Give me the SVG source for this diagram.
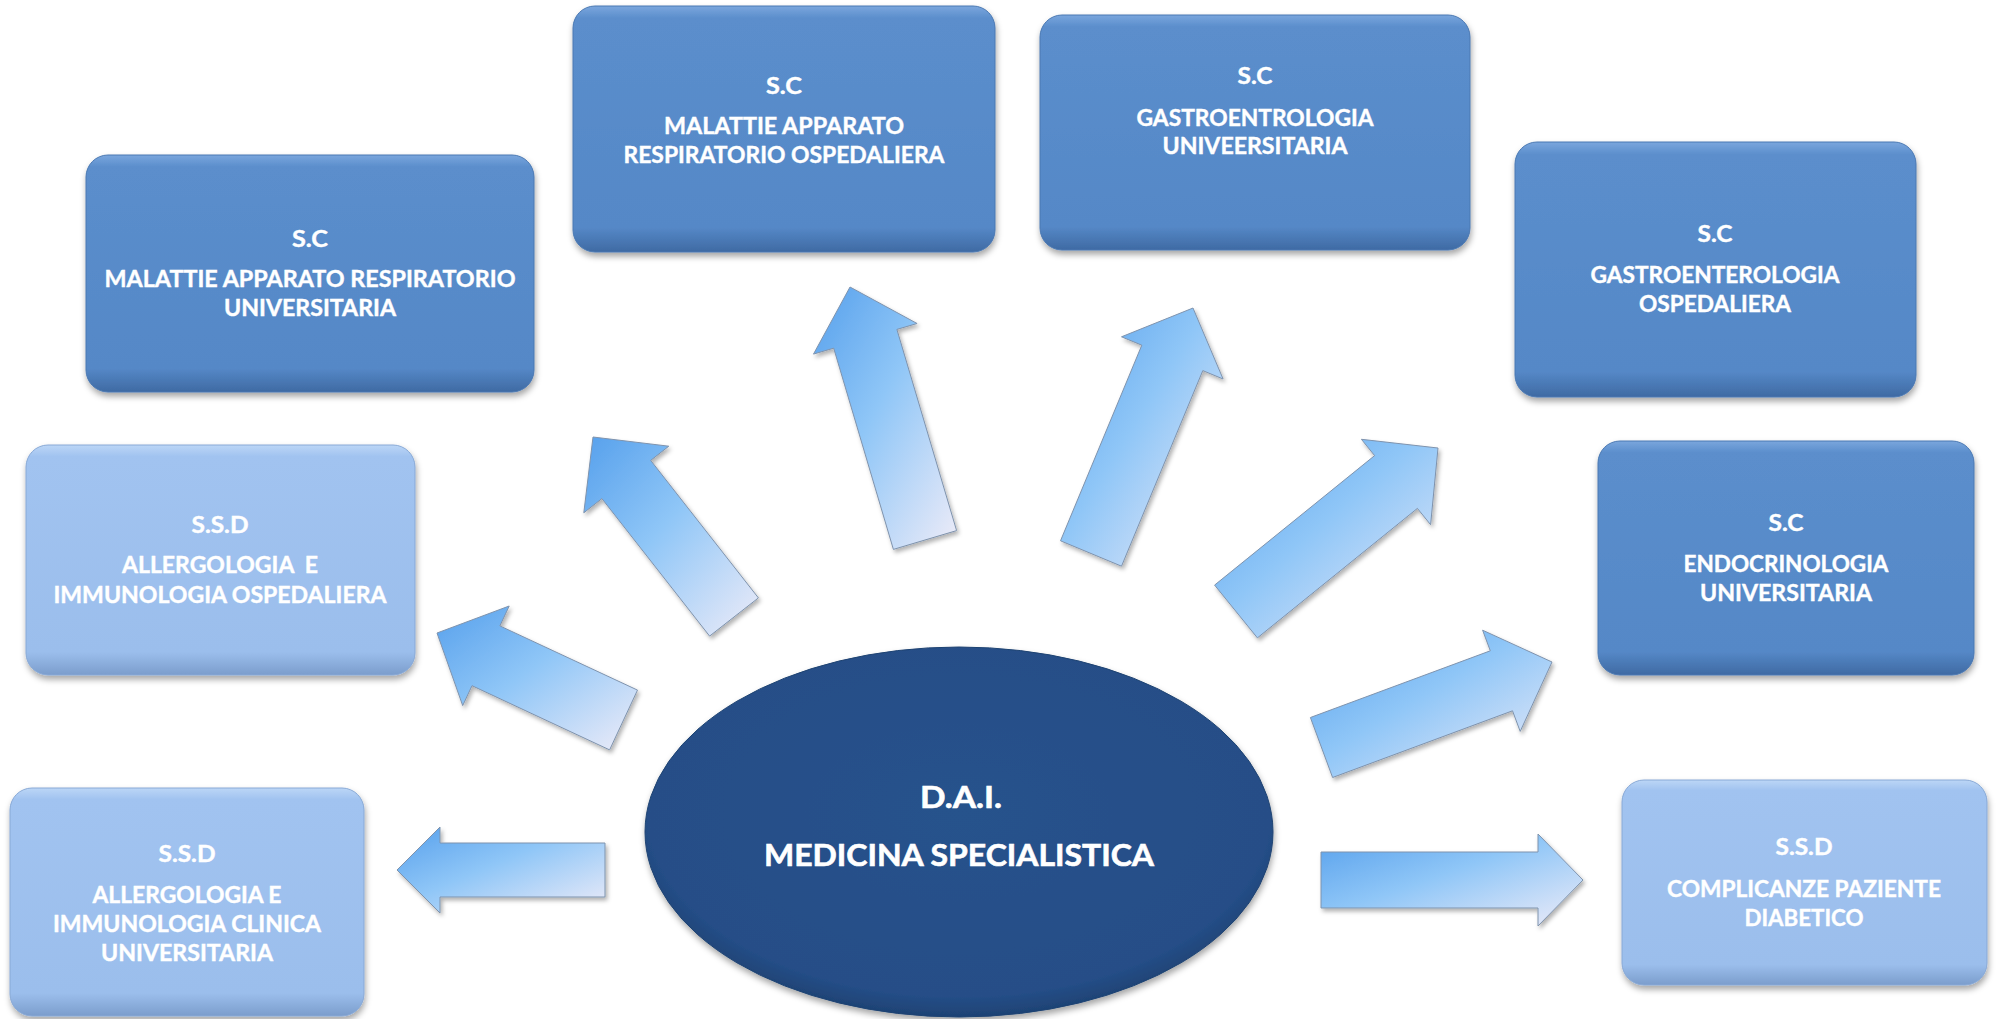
<svg xmlns="http://www.w3.org/2000/svg" width="1999" height="1019" viewBox="0 0 1999 1019">
  <defs>
    <linearGradient id="gDark" x1="0" y1="0" x2="0" y2="1">
      <stop offset="0" stop-color="#7aa6dd"/>
      <stop offset="0.05" stop-color="#5b8ecc"/>
      <stop offset="0.9" stop-color="#5588c7"/>
      <stop offset="1" stop-color="#3f6aa3"/>
    </linearGradient>
    <linearGradient id="gLight" x1="0" y1="0" x2="0" y2="1">
      <stop offset="0" stop-color="#bcd6f6"/>
      <stop offset="0.05" stop-color="#a1c3f0"/>
      <stop offset="0.9" stop-color="#9bbeec"/>
      <stop offset="1" stop-color="#7b9dcc"/>
    </linearGradient>
    <radialGradient id="gEll" cx="0.5" cy="0.45" r="0.55">
      <stop offset="0" stop-color="#27528c"/>
      <stop offset="0.9" stop-color="#254e87"/>
      <stop offset="1" stop-color="#1e4274"/>
    </radialGradient>
    <linearGradient id="gArrow" x1="0" y1="0" x2="1" y2="1">
      <stop offset="0" stop-color="#56a0ec"/>
      <stop offset="0.45" stop-color="#8fc6f7"/>
      <stop offset="1" stop-color="#eeecf8"/>
    </linearGradient>
    <filter id="shadow" x="-10%" y="-10%" width="120%" height="125%">
      <feDropShadow dx="1" dy="4" stdDeviation="3" flood-color="#000" flood-opacity="0.35"/>
    </filter>
    <filter id="ashadow" x="-10%" y="-10%" width="125%" height="125%">
      <feDropShadow dx="2" dy="3" stdDeviation="2" flood-color="#000" flood-opacity="0.3"/>
    </filter>
  </defs>
  <style>
    .dark { fill: url(#gDark); stroke: #4a78b2; stroke-width: 1; filter: url(#shadow); }
    .light { fill: url(#gLight); stroke: #88a9d6; stroke-width: 1; filter: url(#shadow); }
    .t { font-family: Lato, "Open Sans", "Liberation Sans", sans-serif; font-weight: bold; font-size: 23px; fill: #ffffff; stroke: #ffffff; stroke-width: 0.4; text-anchor: middle; }
    .tb { font-family: Lato, "Open Sans", "Liberation Sans", sans-serif; font-weight: bold; font-size: 30px; fill: #ffffff; stroke: #ffffff; stroke-width: 0.6; text-anchor: middle; }
    .arrow { fill: url(#gArrow); stroke: #7f93ad; stroke-width: 1; stroke-linejoin: miter; filter: url(#ashadow); }
  </style>
  <rect width="1999" height="1019" fill="#ffffff"/>

  <g id="connectors">
    <polygon class="arrow" points="605,843 440,843 440,827 397,870 440,913 440,897 605,897"/>
    <polygon class="arrow" points="637.5,690.1 499.9,625.9 509.2,606.0 437,633 462.7,705.6 472.0,685.7 609.6,749.9"/>
    <polygon class="arrow" points="758.4,597.9 650.7,460.4 668.8,446.2 593,437 583.8,512.8 601.9,498.6 709.6,636.1"/>
    <polygon class="arrow" points="956.6,530.6 896.9,329.4 917.1,323.5 850,287 813.5,354.1 833.7,348.2 893.4,549.4"/>
    <polygon class="arrow" points="1121.5,566.2 1202.8,370.6 1223.1,379.0 1193,308 1121.5,336.8 1141.8,345.2 1060.5,540.8"/>
    <polygon class="arrow" points="1257.4,637.9 1417.4,508.4 1430.6,524.7 1438,448 1361.4,439.3 1374.6,455.6 1214.6,585.1"/>
    <polygon class="arrow" points="1332.6,777.5 1512.5,710.8 1520.2,731.4 1552,662 1482.6,630.2 1490.3,650.8 1310.4,717.5"/>
    <polygon class="arrow" points="1321,852 1538,852 1538,834 1583,880 1538,926 1538,908 1321,908"/>
  </g>

  <g id="node-dai">
    <ellipse cx="959" cy="832" rx="314" ry="185" fill="url(#gEll)" stroke="#1f4372" stroke-width="1" filter="url(#shadow)"/>
    <text class="tb" x="961" y="808" textLength="82" lengthAdjust="spacingAndGlyphs">D.A.I.</text>
    <text class="tb" x="959" y="866" textLength="390" lengthAdjust="spacingAndGlyphs">MEDICINA SPECIALISTICA</text>
  </g>

  <g id="node-resp-univ">
    <rect class="dark" x="86" y="155" width="448" height="237" rx="22"/>
    <text class="t" x="310" y="247" textLength="36" lengthAdjust="spacingAndGlyphs">S.C</text>
    <text class="t" x="310" y="287" textLength="411" lengthAdjust="spacingAndGlyphs">MALATTIE APPARATO RESPIRATORIO</text>
    <text class="t" x="310" y="316" textLength="172" lengthAdjust="spacingAndGlyphs">UNIVERSITARIA</text>
  </g>

  <g id="node-resp-osp">
    <rect class="dark" x="573" y="6" width="422" height="246" rx="22"/>
    <text class="t" x="784" y="94" textLength="36" lengthAdjust="spacingAndGlyphs">S.C</text>
    <text class="t" x="784" y="134" textLength="240" lengthAdjust="spacingAndGlyphs">MALATTIE APPARATO</text>
    <text class="t" x="784" y="163" textLength="321" lengthAdjust="spacingAndGlyphs">RESPIRATORIO OSPEDALIERA</text>
  </g>

  <g id="node-gastro-univ">
    <rect class="dark" x="1040" y="15" width="430" height="235" rx="22"/>
    <text class="t" x="1255" y="84" textLength="35" lengthAdjust="spacingAndGlyphs">S.C</text>
    <text class="t" x="1255" y="126" textLength="237" lengthAdjust="spacingAndGlyphs">GASTROENTROLOGIA</text>
    <text class="t" x="1255" y="154" textLength="185" lengthAdjust="spacingAndGlyphs">UNIVEERSITARIA</text>
  </g>

  <g id="node-gastro-osp">
    <rect class="dark" x="1515" y="142" width="401" height="255" rx="22"/>
    <text class="t" x="1715" y="242" textLength="35" lengthAdjust="spacingAndGlyphs">S.C</text>
    <text class="t" x="1715" y="283" textLength="249" lengthAdjust="spacingAndGlyphs">GASTROENTEROLOGIA</text>
    <text class="t" x="1715" y="312" textLength="152" lengthAdjust="spacingAndGlyphs">OSPEDALIERA</text>
  </g>

  <g id="node-endo">
    <rect class="dark" x="1598" y="441" width="376" height="234" rx="22"/>
    <text class="t" x="1786" y="531" textLength="35" lengthAdjust="spacingAndGlyphs">S.C</text>
    <text class="t" x="1786" y="572" textLength="205" lengthAdjust="spacingAndGlyphs">ENDOCRINOLOGIA</text>
    <text class="t" x="1786" y="601" textLength="172" lengthAdjust="spacingAndGlyphs">UNIVERSITARIA</text>
  </g>

  <g id="node-diab">
    <rect class="light" x="1622" y="780" width="365" height="205" rx="22"/>
    <text class="t" x="1804" y="855" textLength="57" lengthAdjust="spacingAndGlyphs">S.S.D</text>
    <text class="t" x="1804" y="897" textLength="274" lengthAdjust="spacingAndGlyphs">COMPLICANZE PAZIENTE</text>
    <text class="t" x="1804" y="926" textLength="119" lengthAdjust="spacingAndGlyphs">DIABETICO</text>
  </g>

  <g id="node-allerg-osp">
    <rect class="light" x="26" y="445" width="389" height="230" rx="22"/>
    <text class="t" x="220" y="533" textLength="57" lengthAdjust="spacingAndGlyphs">S.S.D</text>
    <text class="t" x="220" y="573" textLength="196" lengthAdjust="spacingAndGlyphs" xml:space="preserve">ALLERGOLOGIA  E</text>
    <text class="t" x="220" y="603" textLength="333" lengthAdjust="spacingAndGlyphs">IMMUNOLOGIA OSPEDALIERA</text>
  </g>

  <g id="node-allerg-univ">
    <rect class="light" x="10" y="788" width="354" height="228" rx="22"/>
    <text class="t" x="187" y="862" textLength="57" lengthAdjust="spacingAndGlyphs">S.S.D</text>
    <text class="t" x="187" y="903" textLength="189" lengthAdjust="spacingAndGlyphs">ALLERGOLOGIA E</text>
    <text class="t" x="187" y="932" textLength="268" lengthAdjust="spacingAndGlyphs">IMMUNOLOGIA CLINICA</text>
    <text class="t" x="187" y="961" textLength="172" lengthAdjust="spacingAndGlyphs">UNIVERSITARIA</text>
  </g>
</svg>
